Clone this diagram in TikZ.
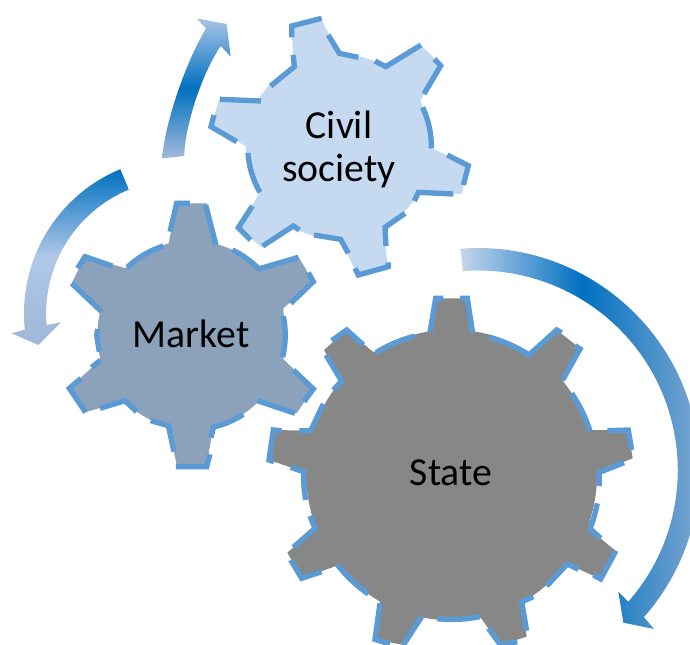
\documentclass[tikz,border=0pt]{standalone}
\usepackage{fontspec}
\setmainfont{Carlito}
\definecolor{linecol}{HTML}{5B9BD5}
\definecolor{civilcol}{HTML}{C5DAF0}
\definecolor{marketcol}{HTML}{8BA2BA}
\definecolor{statecol}{HTML}{878787}
\definecolor{deepblue}{HTML}{0070C0}
\definecolor{arrowA}{HTML}{A9C5E6}
\definecolor{arrowB}{HTML}{A3BADB}
\definecolor{arrowC}{HTML}{B0C8E8}
\definecolor{arrowD}{HTML}{A0B8D8}
\definecolor{arrowE}{HTML}{C5D6EC}
\definecolor{arrowF}{HTML}{80A8D0}
\tikzset{
  gearline/.style={draw=linecol,line width=4pt,miter limit=10},
  gearlabel/.style={font=\fontsize{29.8}{32.4}\selectfont,text=black,align=center,inner sep=0pt},
  zoomed/.style={scale=0.333333}
}
\begin{document}
\begin{tikzpicture}[x=0.75pt,y=-0.75pt]
\useasboundingbox (0,0) rectangle (690,644);
\clip (0,0) rectangle (690,644);
% top arrow
\begin{scope}[zoomed]
\shade[top color=arrowA,bottom color=arrowB,middle color=deepblue] (487,475) .. controls (490,400) and (540,220) .. (618,85) -- (590,55) -- (680,72) -- (692,170) -- (662,138) .. controls (600,230) and (553,390) .. (553,468) -- cycle;
\end{scope}
% left arrow
\begin{scope}[shift={(0,160)},zoomed]
\shade[top color=deepblue,bottom color=arrowD,middle color=arrowC] ([shift={(540,460)}]247.5:468) arc[start angle=247.5,end angle=174,radius=468] -- (35,520) -- (115,555) -- (183,487) -- (140,495) arc[start angle=175,end angle=247.5,radius=402] -- cycle;
\end{scope}
% right arrow
\begin{scope}[shift={(450,230)},zoomed]
\shade[left color=arrowE,right color=arrowF,middle color=deepblue] ([shift={(83,720)}]-94.4:666) arc[start angle=-94.4,end angle=41.5,radius=666] -- (612,1197) -- (520,1178) -- (505,1085) -- (535,1115) arc[start angle=41.2,end angle=-94.4,radius=599] -- cycle;
\end{scope}
% state gear
\begin{scope}[shift={(260,280)},zoomed]
\fill[statecol] (575,585) circle[radius=436];
\fill[statecol] (525,55) -- (622,55) -- (638,160) -- (808,222) -- (890,150) -- (960,205) -- (908,300) -- (997,450) -- (1105,450) -- (1118,535) -- (1015,575) -- (985,745) -- (1070,815) -- (1022,897) -- (922,852) -- (785,965) -- (800,1070) -- (720,1095) -- (660,1010) -- (485,1010) -- (430,1095) -- (345,1078) -- (360,965) -- (228,858) -- (125,895) -- (82,818) -- (165,745) -- (130,575) -- (27,540) -- (40,450) -- (152,452) -- (245,303) -- (192,210) -- (260,150) -- (345,220) -- (510,160) -- cycle;
\path[gearline] (510,157) -- (527,55) -- (550,55);
\path[gearline] (600,55) -- (622,55) -- (638,160);
\path[gearline] (688,172) arc[start angle=-74.7,end angle=-57.3,radius=430] -- (890,150) -- (905,158);
\path[gearline] (945,197) -- (960,207) -- (908,300);
\path[gearline] (935,340) arc[start angle=-34.2,end angle=-17.8,radius=438];
\path[gearline] (1042,452) -- (1105,450) -- (1115,510);
\path[gearline] (1092,548) -- (1018,577) -- (1018,618);
\path[gearline] (1012,670) arc[start angle=11,end angle=21.2,radius=444] -- (1022,775);
\path[gearline] (1068,812) -- (1022,897) -- (1000,885);
\path[gearline] (955,868) -- (922,852) -- (860,918);
\path[gearline] (820,950) -- (785,965) -- (800,1052);
\path[gearline] (772,1085) -- (722,1095) -- (685,1045);
\path[gearline] (660,1010) arc[start angle=78.7,end angle=95.7,radius=433];
\path[gearline] (485,1010) -- (430,1095);
\path[gearline] (390,1092) -- (345,1078) -- (360,970);
\path[gearline] (325,942) arc[start angle=125,end angle=141.8,radius=438];
\path[gearline] (185,875) -- (125,895) -- (92,840);
\path[gearline] (100,802) -- (165,745) -- (150,708);
\path[gearline] (137,660) arc[start angle=170.3,end angle=181.3,radius=444] -- (92,562);
\path[gearline] (42,545) -- (27,540) -- (40,450) -- (65,452);
\path[gearline] (118,452) -- (152,452) -- (190,372);
\path[gearline] (220,330) -- (245,303) -- (198,225);
\path[gearline] (215,182) -- (260,150) -- (310,195);
\path[gearline] (348,218) arc[start angle=-121.7,end angle=-104.9,radius=430];
\end{scope}
% market gear
\begin{scope}[shift={(0,160)},zoomed]
\fill[marketcol] (575,525) circle[radius=283];
\fill[marketcol] (530,130) -- (620,130) -- (648,255) -- (778,325) -- (895,290) -- (940,365) -- (850,445) -- (848,595) -- (940,685) -- (890,760) -- (770,725) -- (640,800) -- (620,915) -- (530,915) -- (505,795) -- (375,722) -- (255,757) -- (208,685) -- (300,600) -- (302,455) -- (215,370) -- (255,290) -- (378,325) -- (505,255) -- cycle;
\path[gearline] (510,215) -- (530,130) -- (570,130);
\path[gearline] (617,135) -- (648,255);
\path[gearline] (697,270) arc[start angle=-64.4,end angle=-44.6,radius=284] -- (895,292);
\path[gearline] (925,338) -- (940,365) -- (872,430);
\path[gearline] (850,468) arc[start angle=-11.7,end angle=13.7,radius=281];
\path[gearline] (880,630) -- (940,687) -- (912,725);
\path[gearline] (885,760) -- (772,722);
\path[gearline] (730,763) arc[start angle=57,end angle=76.7,radius=284] -- (633,833);
\path[gearline] (630,883) -- (620,920) -- (528,920);
\path[gearline] (522,875) -- (505,797) -- (452,782);
\path[gearline] (410,755) -- (375,722) -- (300,745);
\path[gearline] (257,757) -- (208,685) -- (243,655);
\path[gearline] (275,622) -- (302,600);
\path[gearline] (298,575) -- (290,525) -- (293,507);
\path[gearline] (305,455) -- (215,370);
\path[gearline] (233,325) -- (255,290) -- (337,318);
\path[gearline] (382,322) arc[start angle=-133.6,end angle=-107.7,radius=280];
\end{scope}
% civil gear
\begin{scope}[shift={(200,0)},zoomed]
\fill[civilcol] (415,440) circle[radius=278];
\fill[civilcol] (275,78) -- (362,55) -- (418,160) -- (557,200) -- (663,135) -- (722,195) -- (662,300) -- (697,445) -- (805,497) -- (785,582) -- (655,577) -- (555,682) -- (558,740) -- (562,795) -- (472,825) -- (422,718) -- (285,680) -- (185,742) -- (115,683) -- (180,577) -- (140,440) -- (33,380) -- (58,297) -- (183,303) -- (280,200) -- cycle;
\path[gearline] (275,112) -- (275,78) -- (365,55);
\path[gearline] (385,105) -- (418,160) -- (475,172);
\path[gearline] (525,183) -- (557,200) -- (663,135);
\path[gearline] (703,177) -- (722,197) -- (672,282);
\path[gearline] (668,322) arc[start angle=-25,end angle=1,radius=280];
\path[gearline] (742,465) -- (805,497) -- (790,555);
\path[gearline] (760,582) -- (655,577) -- (643,603);
\path[gearline] (615,640) -- (555,682) -- (558,738);
\path[gearline] (565,787) -- (565,800) -- (475,825) -- (465,805);
\path[gearline] (445,760) -- (422,718) -- (342,705);
\path[gearline] (298,690) -- (280,678) -- (188,738);
\path[gearline] (152,720) -- (115,683) -- (157,618);
\path[gearline] (180,577) arc[start angle=150,end angle=176,radius=275];
\path[gearline] (110,425) -- (33,380) -- (42,345);
\path[gearline] (60,298) -- (183,303);
\path[gearline] (212,258) -- (283,200) -- (280,165);
\end{scope}
\node[gearlabel] (civil) at (339,149) {Civil\\society};
\node[gearlabel] (market) at (191,334) {Market};
\node[gearlabel] (state) at (451,473) {State};
\end{tikzpicture}
\end{document}
